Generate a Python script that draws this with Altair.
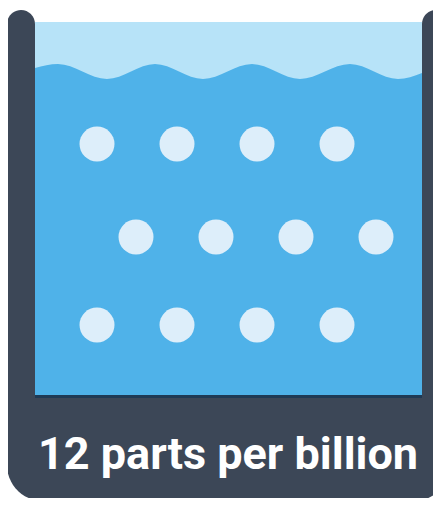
import altair as alt
import pandas as pd

# ---- data ----
label_text = "12 parts per billion"
dot_rows = [0, 0, 0, 0, 1, 1, 1, 1, 2, 2, 2, 2]
dot_cols = [0, 1, 2, 3, 0, 1, 2, 3, 0, 1, 2, 3]
row_y = [144, 237, 325]
col_x_even = [97, 177, 257, 337]
col_x_odd = [136, 216, 296, 376]

wave_x = [35, 58, 107, 155, 203, 252, 300, 350, 398, 422]
wave_y = [68, 64, 79, 64, 79, 64, 79, 64, 79, 73]

# ---- colours ----
DARK = "#3c4757"
LIGHT = "#b7e3f8"
MID = "#4fb2e9"
DOT = "#ddeefa"
LINE = "#1f3a55"

W, H = 425, 490
xs = alt.Scale(domain=[8, 433], nice=False, zero=False)
ys = alt.Scale(domain=[8, 498], nice=False, zero=False, reverse=True)

def X(f):
    return alt.X(f, type="quantitative", scale=xs, axis=None)

def Y(f):
    return alt.Y(f, type="quantitative", scale=ys, axis=None)

walls = pd.DataFrame({"x": [7, 422], "x2": [35, 450], "y": [10, 10], "y2": [470, 470]})
bottom = pd.DataFrame({"x": [7], "x2": [450], "y": [380], "y2": [501]})
water = pd.DataFrame({"x": [35], "x2": [422], "y": [22], "y2": [396]})
line = pd.DataFrame({"x": [35], "x2": [422], "y": [395], "y2": [398]})
wave = pd.DataFrame({"x": wave_x, "y": wave_y, "base": [396] * len(wave_x)})
dots = pd.DataFrame({
    "x": [(col_x_odd if r % 2 else col_x_even)[c] for r, c in zip(dot_rows, dot_cols)],
    "y": [row_y[r] for r in dot_rows],
})
label = pd.DataFrame({"x": [228], "y": [469], "t": [label_text]})

def rects(df, color, **kw):
    return alt.Chart(df).mark_rect(color=color, **kw).encode(
        x=X("x"), x2="x2", y=Y("y"), y2="y2")

wall_layer = rects(walls, DARK, cornerRadiusTopLeft=14, cornerRadiusTopRight=14)
bottom_layer = rects(bottom, DARK, cornerRadiusBottomLeft=36, cornerRadiusBottomRight=36)
water_layer = rects(water, LIGHT)
wave_layer = alt.Chart(wave).mark_area(color=MID, interpolate="monotone", opacity=1).encode(
    x=X("x"), y=Y("y"), y2="base")
line_layer = rects(line, LINE)
dot_layer = alt.Chart(dots).mark_circle(color=DOT, opacity=1, size=1225).encode(
    x=X("x"), y=Y("y"))
text_layer = alt.Chart(label).mark_text(
    color="white", font="Roboto", fontWeight="bold", fontSize=45,
    align="center", baseline="alphabetic").encode(x=X("x"), y=Y("y"), text="t:N")

chart = alt.layer(
    bottom_layer, wall_layer, water_layer, wave_layer, line_layer, dot_layer, text_layer
).properties(
    width=W, height=H, padding=0, autosize=alt.AutoSizeParams(type="none"),
    background="white"
).configure_view(stroke=None)

chart.save("out.html", embed_options={"renderer": "svg", "actions": False})
